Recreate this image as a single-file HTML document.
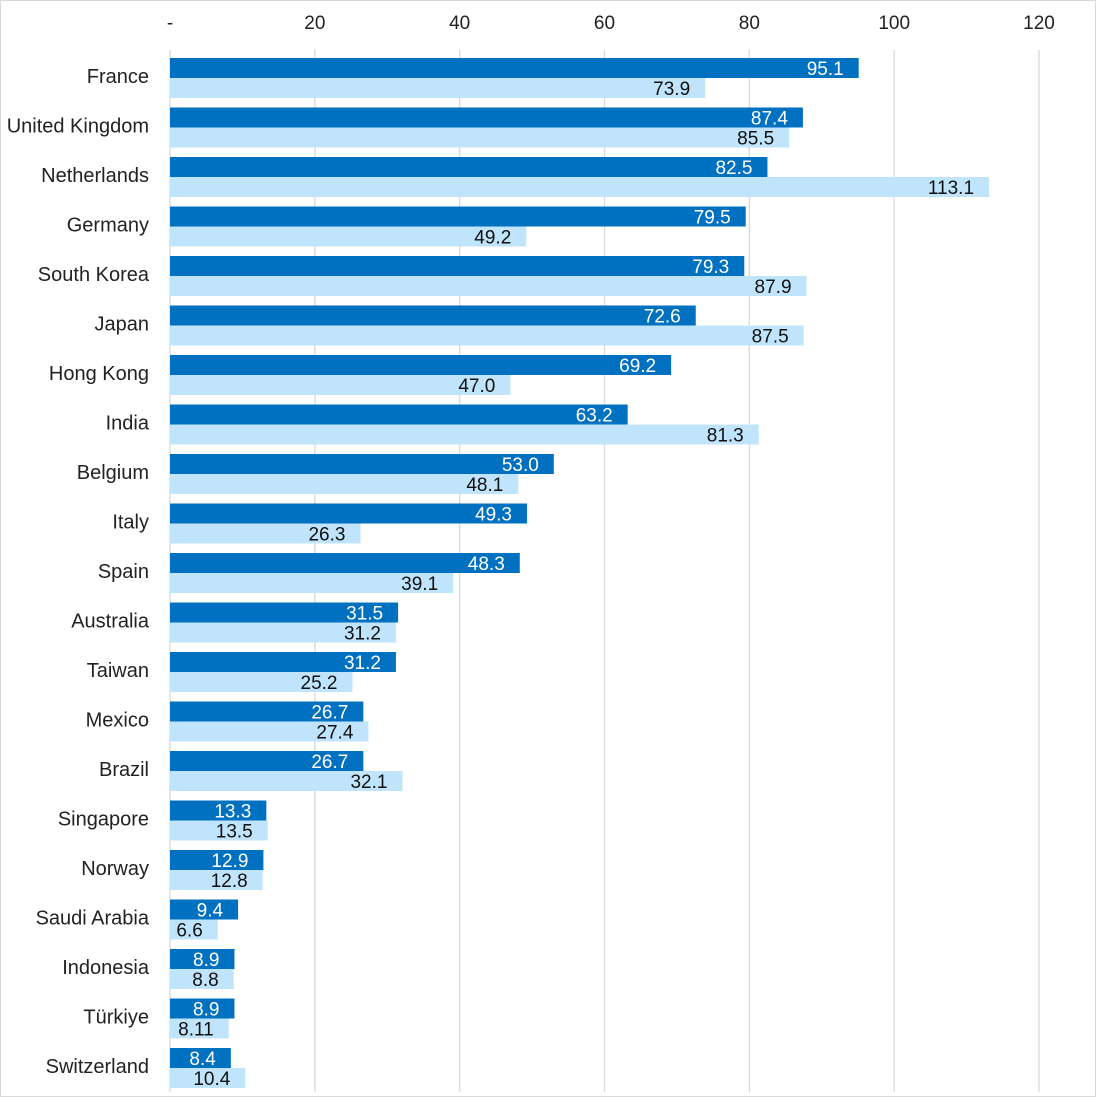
<!DOCTYPE html>
<html><head><meta charset="utf-8"><style>
html,body{margin:0;padding:0;background:#fff}
svg{display:block;font-family:"Liberation Sans",sans-serif}
</style></head><body>
<svg id="chart" width="1096" height="1097" viewBox="0 0 1096 1097">
<rect x="0.5" y="0.5" width="1095" height="1096" fill="#fff" stroke="#d9d9d9"/>
<g id="grid"></g><g id="bars"></g><g id="labels"></g>
</svg>
<script>
const categories=["France","United Kingdom","Netherlands","Germany","South Korea","Japan","Hong Kong","India","Belgium","Italy","Spain","Australia","Taiwan","Mexico","Brazil","Singapore","Norway","Saudi Arabia","Indonesia","Türkiye","Switzerland"];
const series1=[95.1,87.4,82.5,79.5,79.3,72.6,69.2,63.2,53.0,49.3,48.3,31.5,31.2,26.7,26.7,13.3,12.9,9.4,8.9,8.9,8.4];
const series1Labels=["95.1","87.4","82.5","79.5","79.3","72.6","69.2","63.2","53.0","49.3","48.3","31.5","31.2","26.7","26.7","13.3","12.9","9.4","8.9","8.9","8.4"];
const series2=[73.9,85.5,113.1,49.2,87.9,87.5,47.0,81.3,48.1,26.3,39.1,31.2,25.2,27.4,32.1,13.5,12.8,6.6,8.8,8.11,10.4];
const series2Labels=["73.9","85.5","113.1","49.2","87.9","87.5","47.0","81.3","48.1","26.3","39.1","31.2","25.2","27.4","32.1","13.5","12.8","6.6","8.8","8.11","10.4"];
const ticks=[0,20,40,60,80,100,120];
const tickLabels=["-","20","40","60","80","100","120"];

const NS="http://www.w3.org/2000/svg";
const x0=170,pxPerUnit=(1039-170)/120;
const xs=v=>x0+v*pxPerUnit;
const bandTop=i=>53+i*49.5;
function mk(tag,attrs,parent,text){const e=document.createElementNS(NS,tag);for(const k in attrs)e.setAttribute(k,attrs[k]);if(text!==undefined)e.textContent=text;parent.appendChild(e);return e;}
const grid=document.getElementById('grid'),bars=document.getElementById('bars'),labels=document.getElementById('labels');
ticks.forEach((t,i)=>{
  const l=mk('line',{x1:xs(t),x2:xs(t),y1:50,y2:1092,stroke:'#d9d9d9','stroke-width':1.3},grid);
  
  
  const tx=mk('text',{x:xs(t),y:29,'text-anchor':'middle','font-size':19,fill:'#222'},labels,tickLabels[i]);
  
  
});
categories.forEach((c,i)=>{
  const top=bandTop(i);
  const cl=mk('text',{x:149,y:top+30,'text-anchor':'end','font-size':20,fill:'#222'},labels,c);
  
  
  const b1=mk('rect',{x:x0,y:top+5,width:xs(series1[i])-x0,height:20,fill:'#0070c0'},bars);
  
  
  const b2=mk('rect',{x:x0,y:top+25,width:xs(series2[i])-x0,height:20,fill:'#c0e4fb'},bars);
  
  
  const v1=mk('text',{x:xs(series1[i])-15,y:top+22,'text-anchor':'end','font-size':19,fill:'#fff'},labels,series1Labels[i]);
  
  
  const v2=mk('text',{x:xs(series2[i])-15,y:top+42,'text-anchor':'end','font-size':19,fill:'#111'},labels,series2Labels[i]);
  
  
});
</script>
</body></html>
